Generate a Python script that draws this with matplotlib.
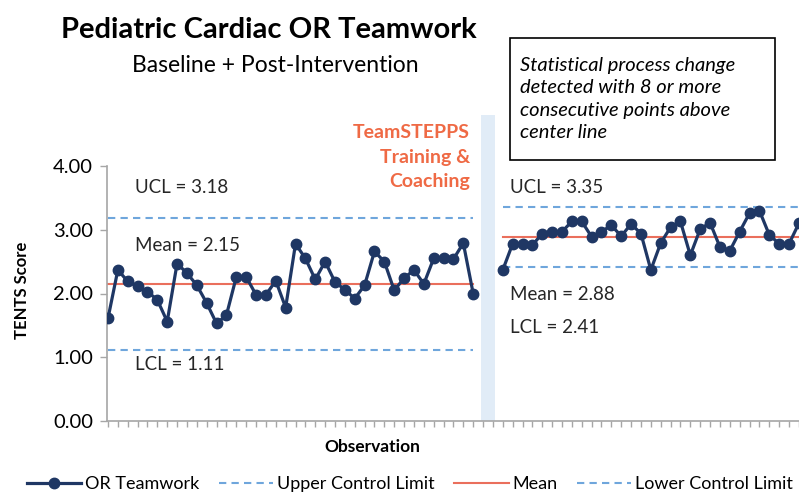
import matplotlib.pyplot as plt
from matplotlib.lines import Line2D
from matplotlib.patches import Rectangle

plt.rcParams['font.family'] = ['Lato', 'DejaVu Sans']

# TENTS scores
baseline = [1.61, 2.37, 2.19, 2.11, 2.03, 1.90, 1.56, 2.47, 2.32, 2.13,
            1.85, 1.53, 1.66, 2.26, 2.26, 1.98, 1.98, 2.20, 1.78, 2.78,
            2.55, 2.22, 2.50, 2.18, 2.06, 1.92, 2.13, 2.66, 2.50, 2.05,
            2.24, 2.37, 2.15, 2.55, 2.55, 2.54, 2.79, 2.00]
post = [2.37, 2.78, 2.78, 2.76, 2.94, 2.97, 2.97, 3.13, 3.13, 2.89,
        2.97, 3.07, 2.90, 3.09, 2.94, 2.37, 2.79, 3.04, 3.13, 2.60,
        3.01, 3.11, 2.73, 2.67, 2.97, 3.26, 3.30, 2.92, 2.78, 2.78, 3.10]

# UCL, mean, LCL for each phase
baseline_limits = [3.18, 2.15, 1.11]
post_limits = [3.35, 2.88, 2.41]

y_ticks = [0, 1, 2, 3, 4]
n_slots = 72
post_start = len(baseline) + 2

navy = '#1f3764'
red = '#ea6f5c'
blue = '#6fa6dc'
gray = '#a6a6a6'
orange = '#ef6a45'

W, H = 799, 493
fig = plt.figure(figsize=(W / 100, H / 100), dpi=100)


def px(x, y):
    return x / W, 1 - y / H


ax = fig.add_axes([107 / W, 72 / H, (n_slots + 0.1) * 9.87 / W, 255 / H])

xb = list(range(len(baseline)))
xp = list(range(post_start, post_start + len(post)))

ax.add_patch(Rectangle((37.83, 0), 1.35, 4.8, color='#e1ecf7', zorder=0,
                       clip_on=False, lw=0))

for lims, x0, x1 in [(baseline_limits, xb[0], xb[-1]),
                     (post_limits, xp[0], n_slots)]:
    ucl, mean, lcl = lims
    ax.plot([x0, x1], [ucl, ucl], color=blue, lw=1.5, ls=(0, (3.5, 2.5)))
    ax.plot([x0, x1], [mean, mean], color=red, lw=1.5)
    ax.plot([x0, x1], [lcl, lcl], color=blue, lw=1.5, ls=(0, (3.5, 2.5)))

ax.plot(xb, baseline, color=navy, lw=2.3, marker='o', ms=7.5, zorder=3)
ax.plot(xp, post, color=navy, lw=2.3, marker='o', ms=7.5, zorder=3,
        clip_on=False)

ax.set_xlim(-0.1, n_slots)
ax.set_ylim(0, 4)
ax.set_yticks(y_ticks)
ax.set_yticklabels(['%.2f' % v for v in y_ticks], fontsize=14.5)
ax.set_xticks(range(0, n_slots + 1))
ax.set_xticklabels([])
ax.tick_params(axis='x', direction='out', length=4, color=gray, width=1)
ax.tick_params(axis='y', direction='out', length=5, color=gray, width=1,
               pad=5)
for s in ['top', 'right']:
    ax.spines[s].set_visible(False)
for s in ['left', 'bottom']:
    ax.spines[s].set_color(gray)
    ax.spines[s].set_linewidth(1.2)

# limit labels
lab = dict(fontsize=13.5, va='center', color='#262626')
ax.text(2.75, 3.67, 'UCL = 3.18', **lab)
ax.text(2.75, 2.76, 'Mean = 2.15', **lab)
ax.text(2.75, 0.89, 'LCL = 1.11', **lab)
ax.text(40.7, 3.67, 'UCL = 3.35', **lab)
ax.text(40.7, 1.98, 'Mean = 2.88', **lab)
ax.text(40.7, 1.47, 'LCL = 2.41', **lab)

fig.text(*px(22, 290), 'TENTS Score', fontsize=12, fontweight='bold',
         rotation=90, ha='center', va='center')
fig.text(*px(372, 447), 'Observation', fontsize=12.5, fontweight='bold',
         ha='center', va='center')

# titles
fig.text(*px(269, 30), 'Pediatric Cardiac OR Teamwork', fontsize=21,
         fontweight='bold', ha='center', va='center')
fig.text(*px(275, 66), 'Baseline + Post-Intervention', fontsize=16.5,
         ha='center', va='center')

fig.text(*px(470, 157), 'TeamSTEPPS\nTraining &\nCoaching', fontsize=14,
         fontweight='bold', color=orange, ha='right', va='center',
         linespacing=1.55)

fig.patches.append(Rectangle(px(510, 160), 265 / W, 122 / H,
                             transform=fig.transFigure, fill=False,
                             ec='black', lw=1.2))
fig.text(*px(520, 99), 'Statistical process change\ndetected with 8 or more\n'
         'consecutive points above\ncenter line', fontsize=14.5,
         style='italic', ha='left', va='center', linespacing=1.4)

handles = [
    Line2D([], [], color=navy, lw=2.3, marker='o', ms=7.5),
    Line2D([], [], color=blue, lw=1.5, ls=(0, (3.5, 2.5))),
    Line2D([], [], color=red, lw=1.5),
    Line2D([], [], color=blue, lw=1.5, ls=(0, (3.5, 2.5))),
]
labels = ['OR Teamwork', 'Upper Control Limit', 'Mean', 'Lower Control Limit']
fig.legend(handles, labels, loc='center', bbox_to_anchor=px(410, 484),
           ncol=4, frameon=False, fontsize=13, handlelength=3.0,
           handletextpad=0.2, columnspacing=1.1, borderpad=0)

fig.savefig('out.png', dpi=100)
